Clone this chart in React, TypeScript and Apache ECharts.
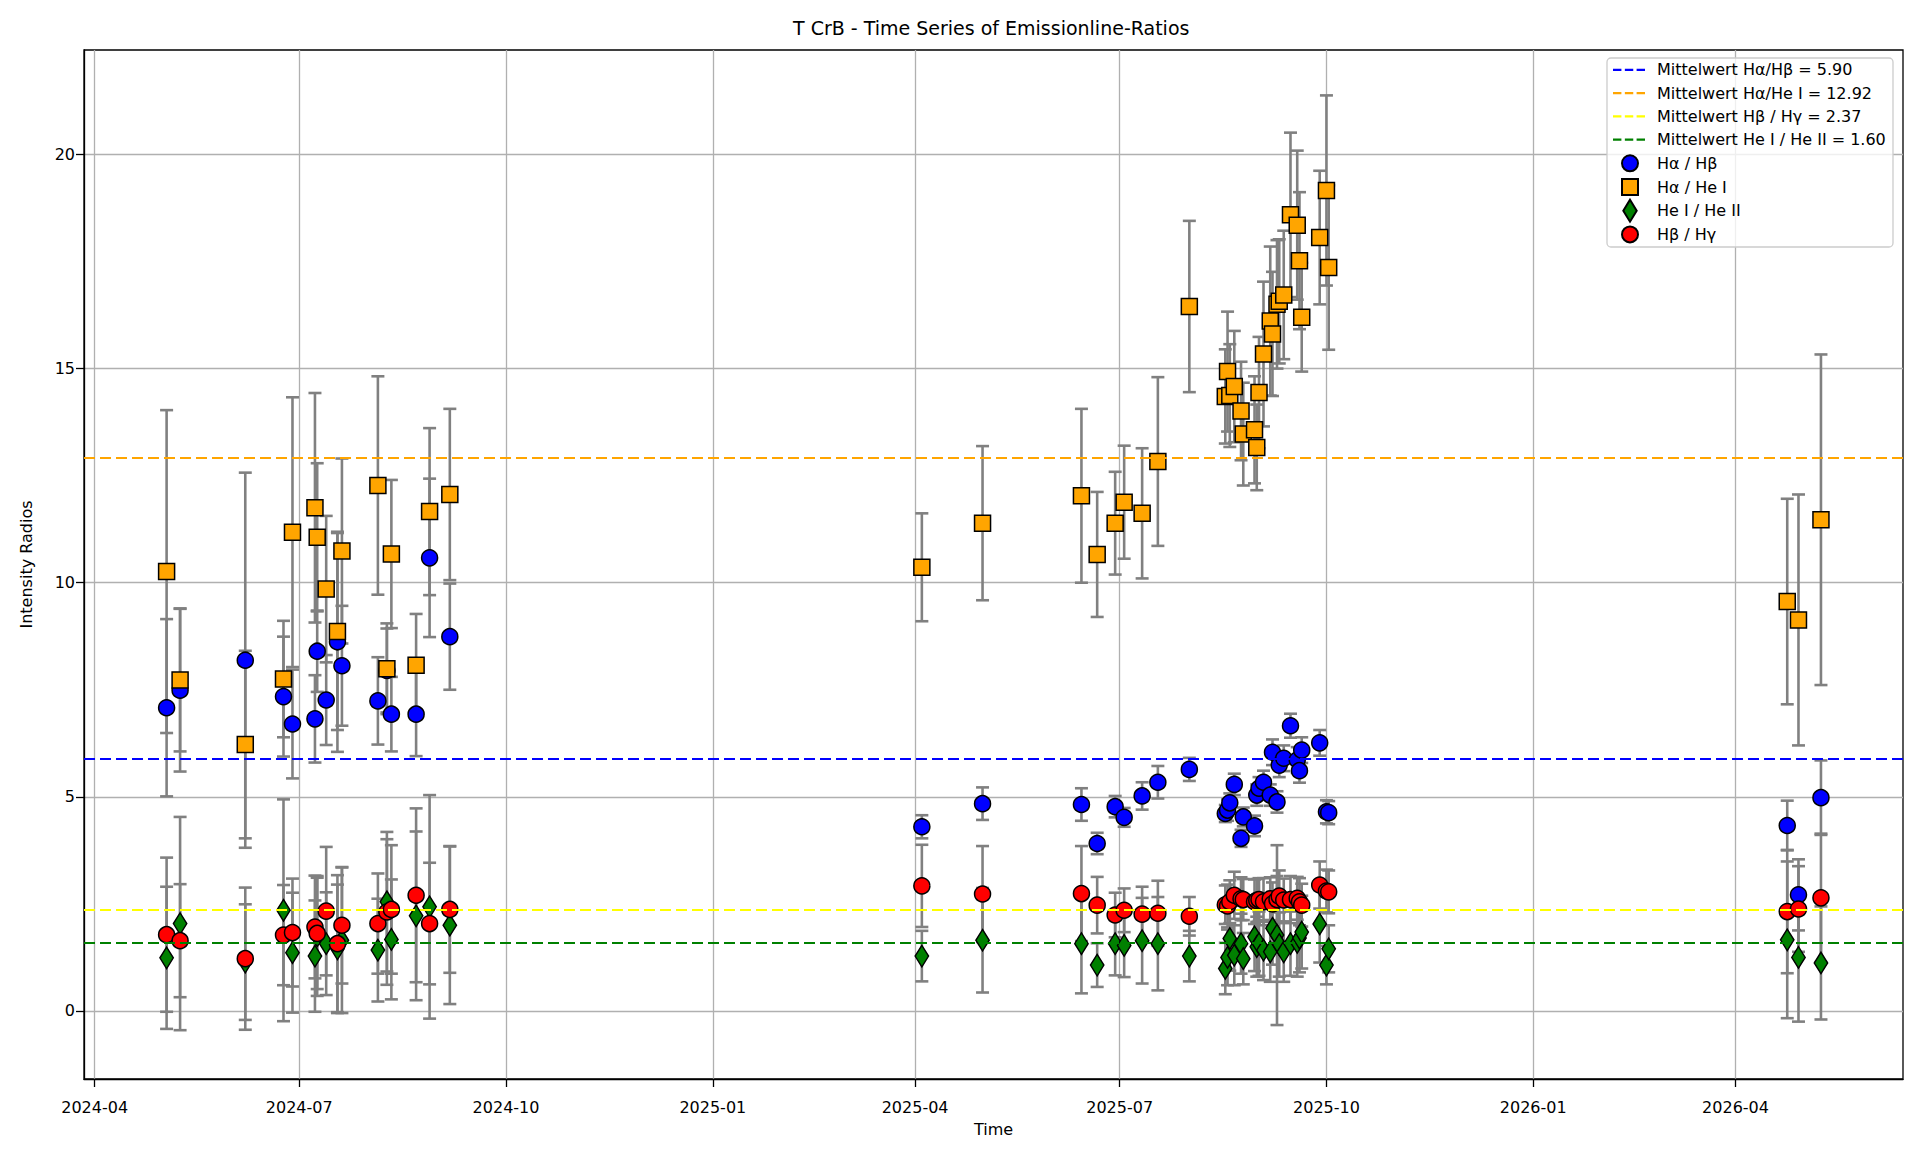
import React, { useEffect, useRef } from "react";
import * as echarts from "echarts";

// Observation dates (2024 season, 2025 season, 2026 season)
const dates = [
  "2024-05-03", "2024-05-09", "2024-06-07", "2024-06-24", "2024-06-28", "2024-07-08",
  "2024-07-09", "2024-07-13", "2024-07-18", "2024-07-20", "2024-08-05", "2024-08-09",
  "2024-08-11", "2024-08-22", "2024-08-28", "2024-09-06",
  "2025-04-04", "2025-05-01", "2025-06-14", "2025-06-21", "2025-06-29", "2025-07-03",
  "2025-07-11", "2025-07-18", "2025-08-01",
  "2025-08-17", "2025-08-18", "2025-08-19", "2025-08-21", "2025-08-24", "2025-08-25",
  "2025-08-30", "2025-08-31", "2025-09-01", "2025-09-03", "2025-09-06", "2025-09-07",
  "2025-09-09", "2025-09-10", "2025-09-12", "2025-09-15", "2025-09-18", "2025-09-19",
  "2025-09-20", "2025-09-28", "2025-10-01", "2025-10-02",
  "2026-04-24", "2026-04-29", "2026-05-09",
];

// H-alpha / H-beta
const haHb = [
  7.08, 7.49, 8.19, 7.34, 6.70, 6.82, 8.40, 7.26, 8.62, 8.06, 7.24, 7.95, 6.93, 6.93, 10.58, 8.74,
  4.30, 4.84, 4.82, 3.91, 4.77, 4.52, 5.02, 5.34, 5.64,
  4.61, 4.69, 4.86, 5.29, 4.03, 4.53, 4.32, 5.04, 5.20, 5.34, 5.04, 6.04, 4.88, 5.74, 5.90, 6.66,
  5.86, 5.61, 6.09, 6.26, 4.65, 4.63,
  4.33, 2.71, 4.98,
];
const haHbErr = [
  2.07, 1.90, 4.38, 1.40, 1.27, 1.02, 0.95, 1.05, 2.57, 1.40, 1.02, 0.98, 0.87, 0.98, 1.85, 1.24,
  0.27, 0.38, 0.38, 0.25, 0.25, 0.22, 0.32, 0.38, 0.27,
  0.20, 0.25, 0.22, 0.25, 0.20, 0.22, 0.24, 0.25, 0.26, 0.27, 0.25, 0.30, 0.25, 0.28, 0.30, 0.28,
  0.30, 0.28, 0.30, 0.30, 0.27, 0.27,
  0.58, 0.83, 0.87,
];

// H-alpha / He I
const haHeI = [
  10.26, 7.73, 6.22, 7.75, 11.18, 11.75, 11.06, 9.85, 8.86, 10.74, 12.27, 7.99, 10.67, 8.07, 11.66, 12.06,
  10.36, 11.39, 12.03, 10.66, 11.39, 11.88, 11.62, 12.83, 16.45,
  14.35, 14.93, 14.37, 14.58, 14.01, 13.47, 13.57, 13.16, 14.44, 15.34, 16.11, 15.81, 16.50, 16.57,
  16.72, 18.59, 18.35, 17.52, 16.20, 18.06, 19.16, 17.36,
  9.56, 9.13, 11.47,
];
const haHeIErr = [
  3.77, 1.67, 2.19, 1.36, 3.15, 2.68, 1.73, 1.71, 2.30, 2.16, 2.55, 1.06, 1.73, 1.20, 1.95, 2.00,
  1.26, 1.80, 2.03, 1.46, 1.20, 1.32, 1.52, 1.97, 2.00,
  1.10, 1.40, 1.20, 1.30, 1.15, 1.20, 1.25, 1.00, 1.30, 1.69, 1.74, 1.45, 1.50, 1.45,
  1.50, 1.92, 1.74, 1.60, 1.27, 1.56, 2.22, 1.92,
  2.40, 2.93, 3.86,
];

// He I / He II
const heIHeII = [
  1.24, 2.04, 1.14, 2.35, 1.36, 1.28, 1.75, 1.57, 1.45, 1.65, 1.42, 2.55, 1.67, 2.22, 2.43, 2.00,
  1.28, 1.65, 1.57, 1.07, 1.57, 1.53, 1.64, 1.57, 1.28,
  0.99, 1.25, 1.69, 1.30, 1.57, 1.22, 1.73, 1.50, 1.57, 1.42, 1.38, 1.93, 1.77, 1.55, 1.38, 1.57,
  1.60, 1.70, 1.84, 2.03, 1.07, 1.45,
  1.66, 1.25, 1.12,
];
const heIHeIIErr = [
  1.66, 2.49, 1.35, 2.59, 1.40, 1.30, 1.40, 1.20, 1.50, 1.70, 1.20, 1.63, 1.40, 1.97, 2.61, 1.84,
  0.59, 1.22, 1.16, 0.51, 0.74, 0.74, 1.00, 1.09, 0.59,
  0.60, 0.65, 0.75, 0.70, 0.70, 0.60, 0.80, 0.70, 0.75, 0.70, 0.70, 0.85, 2.10, 0.75, 0.70, 0.75,
  0.80, 0.80, 0.85, 0.90, 0.45, 0.55,
  1.83, 1.50, 1.32,
];

// H-beta / H-gamma
const hbHg = [
  1.78, 1.64, 1.22, 1.77, 1.83, 1.96, 1.81, 2.33, 1.57, 2.00, 2.04, 2.31, 2.37, 2.70, 2.04, 2.37,
  2.92, 2.73, 2.74, 2.47, 2.24, 2.35, 2.26, 2.28, 2.21,
  2.48, 2.45, 2.55, 2.70, 2.62, 2.60, 2.55, 2.58, 2.60, 2.55, 2.62, 2.50, 2.60, 2.68, 2.59, 2.60,
  2.63, 2.55, 2.47, 2.94, 2.80, 2.78,
  2.32, 2.38, 2.64,
];
const hbHgErr = [
  1.80, 1.32, 1.66, 1.17, 1.26, 1.20, 1.30, 1.50, 1.60, 1.36, 1.17, 1.70, 1.50, 2.03, 1.42, 1.48,
  0.96, 1.12, 1.11, 0.66, 0.52, 0.51, 0.64, 0.76, 0.45,
  0.45, 0.50, 0.50, 0.55, 0.50, 0.48, 0.52, 0.50, 0.50, 0.55, 0.50, 0.50, 0.55, 0.60, 0.50, 0.55,
  0.50, 0.55, 0.50, 0.55, 0.50, 0.50,
  1.44, 1.00, 1.50,
];

// Mean values of the four ratios
const meanHaHb = 5.9;
const meanHaHeI = 12.92;
const meanHbHg = 2.37;
const meanHeIHeII = 1.6;

// Axis ticks and ranges
const xTickDates = [
  "2024-04-01", "2024-07-01", "2024-10-01", "2025-01-01", "2025-04-01",
  "2025-07-01", "2025-10-01", "2026-01-01", "2026-04-01",
];
const yTicks = [0, 5, 10, 15, 20];
const xRange = ["2024-03-27T06", "2026-06-14T12"];
const yRange = [-1.59, 22.44];

const FONT = "DejaVu Sans";
const ERR_COLOR = "#808080";

// Legend glyphs: dashed line, and markers padded inside a 22x22 box
const ICON_DASH = "path://M0,0h8.3v2.2h-8.3zM11.7,0h8.3v2.2h-8.3zM23.3,0h8.3v2.2h-8.3z";
const ICON_CIRCLE = "path://M0,0M22,22M3,11a8,8 0 1,0 16,0a8,8 0 1,0 -16,0z";
const ICON_SQUARE = "path://M0,0M22,22M3,3h16v16h-16z";
const ICON_DIAMOND = "path://M0,0M22,22M11,0L17.7,11L11,22L4.3,11z";

// "YYYY-MM-DD" or "YYYY-MM-DDTHH" -> epoch milliseconds (UTC)
function toTime(s: string): number {
  const [datePart, hourPart] = s.split("T");
  const [y, m, d] = datePart.split("-").map(Number);
  return Date.UTC(y, m - 1, d, hourPart ? Number(hourPart) : 0);
}

function formatMonth(v: number): string {
  const d = new Date(v);
  return `${d.getUTCFullYear()}-${String(d.getUTCMonth() + 1).padStart(2, "0")}`;
}

function errorBars(name: string, values: number[], errs: number[]) {
  return {
    type: "custom",
    name,
    z: 2,
    silent: true,
    data: dates.map((d, i) => [toTime(d), values[i], errs[i]]),
    encode: { x: 0, y: 1 },
    renderItem: (_params: any, api: any) => {
      const x = api.value(0);
      const y = api.value(1);
      const e = api.value(2);
      const top = api.coord([x, y + e]);
      const bot = api.coord([x, y - e]);
      const hw = 6.5;
      const style = { stroke: ERR_COLOR, lineWidth: 2.6 };
      return {
        type: "group",
        children: [
          { type: "line", shape: { x1: top[0], y1: top[1], x2: bot[0], y2: bot[1] }, style },
          { type: "line", shape: { x1: top[0] - hw, y1: top[1], x2: top[0] + hw, y2: top[1] }, style },
          { type: "line", shape: { x1: bot[0] - hw, y1: bot[1], x2: bot[0] + hw, y2: bot[1] }, style },
        ],
      };
    },
  };
}

function meanLine(name: string, value: number, color: string) {
  const lineStyle = { color, width: 2.2, type: [11, 5] as any };
  return {
    type: "line",
    name,
    z: 3,
    data: [],
    symbol: "none",
    itemStyle: { color },
    lineStyle,
    markLine: {
      silent: true,
      symbol: "none",
      label: { show: false },
      lineStyle,
      data: [{ yAxis: value }],
    },
  };
}

function markers(name: string, values: number[], color: string, symbol: string, size: any) {
  return {
    type: "scatter",
    name,
    z: 4,
    symbol,
    symbolSize: size,
    itemStyle: { color, borderColor: "#000", borderWidth: 1.5, opacity: 1 },
    data: dates.map((d, i) => [toTime(d), values[i]]),
  };
}

const names = {
  mHaHb: `Mittelwert Hα/Hβ = ${meanHaHb.toFixed(2)}`,
  mHaHeI: `Mittelwert Hα/He I = ${meanHaHeI.toFixed(2)}`,
  mHbHg: `Mittelwert Hβ / Hγ = ${meanHbHg.toFixed(2)}`,
  mHeI: `Mittelwert He I / He II = ${meanHeIHeII.toFixed(2)}`,
  haHb: "Hα / Hβ",
  haHeI: "Hα / He I",
  heI: "He I / He II",
  hbHg: "Hβ / Hγ",
};

function buildOption() {
  const axisLineStyle = { color: "#000", width: 1.3 };
  const gridLine = { show: true, lineStyle: { color: "#b0b0b0", width: 1.3, type: "solid" as const } };
  const xTicks = xTickDates.map(toTime);
  const legendText = { fontFamily: FONT, fontSize: 16, color: "#000", lineHeight: 16 };
  return {
    animation: false,
    backgroundColor: "#fff",
    textStyle: { fontFamily: FONT },
    title: {
      text: "T CrB - Time Series of Emissionline-Ratios",
      left: 788,
      top: 13,
      textStyle: { fontFamily: FONT, fontSize: 19, fontWeight: "normal", color: "#000" },
    },
    grid: {
      left: 84,
      right: 17,
      top: 50,
      bottom: 79,
      containLabel: false,
      outerBoundsMode: "none",
      show: true,
      borderColor: "#000",
      borderWidth: 1.3,
      backgroundColor: "transparent",
    },
    // legend frame
    graphic: [
      {
        type: "rect",
        z: 10,
        silent: true,
        shape: { x: 1607, y: 58, width: 286, height: 189, r: 4 },
        style: { fill: "rgba(255,255,255,0.8)", stroke: "#cccccc", lineWidth: 1.3 },
      },
    ],
    legend: [
      {
        z: 11,
        orient: "vertical",
        left: 1613,
        top: 61.8,
        padding: 0,
        itemWidth: 32,
        itemHeight: 16,
        itemGap: 7.3,
        textStyle: { ...legendText, padding: [0, 0, 0, 7] },
        data: [
          { name: names.mHaHb, icon: ICON_DASH },
          { name: names.mHaHeI, icon: ICON_DASH },
          { name: names.mHbHg, icon: ICON_DASH },
          { name: names.mHeI, icon: ICON_DASH },
        ],
      },
      {
        z: 11,
        orient: "vertical",
        left: 1618,
        top: 151.3,
        padding: 0,
        itemWidth: 34,
        itemHeight: 22,
        itemGap: -0.3,
        textStyle: { ...legendText, padding: [0, 0, 0, 5] },
        data: [
          { name: names.haHb, icon: ICON_CIRCLE },
          { name: names.haHeI, icon: ICON_SQUARE },
          { name: names.heI, icon: ICON_DIAMOND },
          { name: names.hbHg, icon: ICON_CIRCLE },
        ],
      },
    ],
    xAxis: {
      type: "value",
      min: toTime(xRange[0]),
      max: toTime(xRange[1]),
      name: "Time",
      nameLocation: "middle",
      nameGap: 42,
      nameTextStyle: { fontFamily: FONT, fontSize: 16, color: "#000" },
      axisLine: { show: true, onZero: false, lineStyle: axisLineStyle },
      axisTick: { show: true, length: 8, lineStyle: axisLineStyle, customValues: xTicks },
      axisLabel: {
        customValues: xTicks,
        fontFamily: FONT,
        fontSize: 16,
        color: "#000",
        margin: 20,
        formatter: (v: number) => formatMonth(v),
      },
      splitLine: gridLine,
    },
    yAxis: {
      type: "value",
      min: yRange[0],
      max: yRange[1],
      name: "Intensity Radios",
      nameLocation: "middle",
      nameRotate: 90,
      nameGap: 50,
      nameTextStyle: { fontFamily: FONT, fontSize: 16, color: "#000" },
      axisLine: { show: true, onZero: false, lineStyle: axisLineStyle },
      axisTick: { show: true, length: 8, lineStyle: axisLineStyle, customValues: yTicks },
      axisLabel: { customValues: yTicks, fontFamily: FONT, fontSize: 16, color: "#000", margin: 9 },
      splitLine: gridLine,
    },
    series: [
      errorBars("err-haHb", haHb, haHbErr),
      errorBars("err-haHeI", haHeI, haHeIErr),
      errorBars("err-heI", heIHeII, heIHeIIErr),
      errorBars("err-hbHg", hbHg, hbHgErr),
      meanLine(names.mHaHb, meanHaHb, "#0000ff"),
      meanLine(names.mHaHeI, meanHaHeI, "#ffa500"),
      meanLine(names.mHbHg, meanHbHg, "#ffff00"),
      meanLine(names.mHeI, meanHeIHeII, "#008000"),
      markers(names.haHb, haHb, "#0000ff", "circle", 16),
      markers(names.haHeI, haHeI, "#ffa500", "rect", 16),
      markers(names.heI, heIHeII, "#008000", "diamond", [13.4, 21.5]),
      markers(names.hbHg, hbHg, "#ff0000", "circle", 16),
    ],
  };
}

export default function App() {
  const ref = useRef<HTMLDivElement>(null);
  useEffect(() => {
    document.body.style.margin = "0";
    const chart = echarts.init(ref.current!, null, { renderer: "svg" });
    chart.setOption(buildOption() as any);
    return () => chart.dispose();
  }, []);
  return <div ref={ref} style={{ width: 1920, height: 1158, position: "absolute", left: 0, top: 0 }} />;
}
